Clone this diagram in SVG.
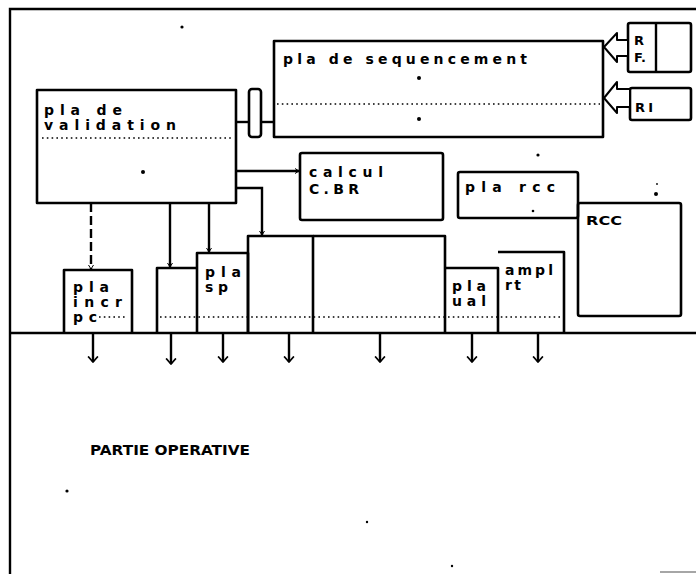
<svg xmlns="http://www.w3.org/2000/svg" width="696" height="574" viewBox="0 0 696 574">
<style>
.box{fill:none;stroke:#000;stroke-width:2.6;stroke-linejoin:round}
.ln{fill:none;stroke:#000;stroke-width:2.4}
.dot{fill:none;stroke:#000;stroke-width:1.6;stroke-dasharray:1.6 3.2}
.t{font-family:"DejaVu Sans","Liberation Sans",sans-serif;font-weight:bold;font-size:14px;fill:#000}
.c{font-family:"DejaVu Sans","Liberation Sans",sans-serif;font-weight:bold;font-size:13px;fill:#000}
.sp{fill:#000}
</style>
<defs>
<marker id="big" markerUnits="userSpaceOnUse" viewBox="0 0 10 16" refX="9" refY="8" markerWidth="7" markerHeight="15" orient="auto">
<path d="M1,1 L9,8 L1,15" fill="none" stroke="#000" stroke-width="2.4"/>
</marker>
<marker id="sm" markerUnits="userSpaceOnUse" viewBox="0 0 10 12" refX="9" refY="6" markerWidth="5" markerHeight="9" orient="auto">
<path d="M1,1 L9,6 L1,11" fill="none" stroke="#000" stroke-width="2"/>
</marker>
</defs>
<rect width="696" height="574" fill="#fff"/>
<g id="frame">
<path class="ln" d="M10,574 V9 H696" stroke-width="3"/>
<path class="ln" d="M10,333 H696" stroke-width="3"/>
</g>
<g id="validation">
<rect class="box" x="37" y="90" width="199" height="113"/>
<text class="t" x="44" y="115" textLength="78" lengthAdjust="spacing">pla de</text>
<text class="t" x="44" y="130" textLength="132" lengthAdjust="spacing">validation</text>
<line class="dot" x1="42" y1="138" x2="232" y2="138"/>
<circle class="sp" cx="143" cy="172" r="2"/>
</g>
<g id="sequencement">
<rect class="box" x="274" y="41" width="329" height="96"/>
<text class="t" x="283" y="64" textLength="244" lengthAdjust="spacing">pla de sequencement</text>
<line class="dot" x1="277" y1="104" x2="600" y2="104"/>
<circle class="sp" cx="419" cy="78" r="2"/>
<circle class="sp" cx="419" cy="119" r="2"/>
</g>
<g id="rf">
<rect class="box" x="628" y="23" width="63" height="49" rx="2"/>
<line class="ln" x1="656" y1="23" x2="656" y2="72"/>
<text class="c" x="634" y="45">R</text>
<text class="c" x="634" y="62">F.</text>
</g>
<g id="ri">
<rect class="box" x="630" y="88" width="61" height="32" rx="2"/>
<text class="c" x="635" y="112" textLength="18" lengthAdjust="spacing">RI</text>
</g>
<g id="calcul">
<rect class="box" x="300" y="153" width="143" height="67" rx="2"/>
<text class="t" x="309" y="177" textLength="74" lengthAdjust="spacing">calcul</text>
<text class="t" x="309" y="194" textLength="50" lengthAdjust="spacing">C.BR</text>
</g>
<g id="plarcc">
<rect class="box" x="458" y="172" width="120" height="46" rx="2"/>
<text class="t" x="465" y="192" textLength="90" lengthAdjust="spacing">pla rcc</text>
<circle class="sp" cx="533" cy="211" r="1.3"/>
</g>
<g id="rcc">
<rect class="box" x="578" y="203" width="103" height="113" rx="2"/>
<text class="c" x="586" y="225" textLength="36" lengthAdjust="spacingAndGlyphs">RCC</text>
<circle class="sp" cx="656" cy="194" r="2"/>
<circle class="sp" cx="657" cy="184" r="0.9"/>
</g>
<g id="plaincrpc">
<path class="box" d="M64,333 V270 H132 V333"/>
<text class="t" x="73" y="292" textLength="36" lengthAdjust="spacing">pla</text>
<text class="t" x="73" y="307" textLength="49" lengthAdjust="spacing">incr</text>
<text class="t" x="73" y="322" textLength="24" lengthAdjust="spacing">pc</text>
<line class="dot" x1="99" y1="317" x2="127" y2="317"/>
</g>
<g id="small">
<path class="box" d="M157,333 V268 H197"/>
</g>
<g id="plasp">
<path class="box" d="M197,333 V253 H248 V333"/>
<text class="t" x="205" y="277" textLength="36" lengthAdjust="spacing">pla</text>
<text class="t" x="205" y="292" textLength="23" lengthAdjust="spacing">sp</text>
</g>
<g id="big1">
<path class="box" d="M248,333 V236 H313 V333"/>
</g>
<g id="big2">
<path class="box" d="M313,236 H445 V333"/>
</g>
<g id="plaual">
<path class="box" d="M445,268 H498 V333"/>
<text class="t" x="452" y="291" textLength="34" lengthAdjust="spacing">pla</text>
<text class="t" x="452" y="306" textLength="34" lengthAdjust="spacing">ual</text>
</g>
<g id="amplrt">
<path class="box" d="M498,252 H564 V333"/>
<text class="t" x="505" y="275" textLength="48" lengthAdjust="spacing">ampl</text>
<text class="t" x="505" y="290" textLength="16" lengthAdjust="spacing">rt</text>
</g>
<line class="dot" x1="160" y1="317" x2="562" y2="317"/>
<g id="partie">
<text class="t" x="90" y="455" font-size="14" textLength="160" lengthAdjust="spacingAndGlyphs" font-family="Liberation Sans, sans-serif">PARTIE OPERATIVE</text>
</g>
<g id="connectors">
<line class="ln" x1="236" y1="122" x2="249" y2="122"/>
<rect class="box" x="249" y="89" width="12" height="48" rx="3"/>
<line class="ln" x1="261" y1="122" x2="274" y2="122"/>
<polygon points="628,40 617,40 617,33 604,47 617,62 617,56 628,56" fill="#fff" stroke="#000" stroke-width="2" stroke-linejoin="round"/>
<polygon points="630,89 617,89 617,82 604,98 617,113 617,107 630,107" fill="#fff" stroke="#000" stroke-width="2" stroke-linejoin="round"/>
<line class="ln" x1="236" y1="171" x2="299" y2="171" marker-end="url(#sm)"/>
<path class="ln" d="M236,188 H262 V235" marker-end="url(#sm)"/>
<line class="ln" x1="91" y1="203" x2="91" y2="269" stroke-dasharray="9 4" marker-end="url(#sm)"/>
<line class="ln" x1="170" y1="203" x2="170" y2="267" marker-end="url(#sm)"/>
<line class="ln" x1="209" y1="203" x2="209" y2="252" marker-end="url(#sm)"/>
<line class="ln" x1="93" y1="334" x2="93" y2="362" marker-end="url(#big)"/>
<line class="ln" x1="171" y1="334" x2="171" y2="364" marker-end="url(#big)"/>
<line class="ln" x1="223" y1="334" x2="223" y2="362" marker-end="url(#big)"/>
<line class="ln" x1="289" y1="334" x2="289" y2="362" marker-end="url(#big)"/>
<line class="ln" x1="380" y1="334" x2="380" y2="362" marker-end="url(#big)"/>
<line class="ln" x1="472" y1="334" x2="472" y2="362" marker-end="url(#big)"/>
<line class="ln" x1="538" y1="334" x2="538" y2="362" marker-end="url(#big)"/>
</g>
<g id="specks">
<circle class="sp" cx="182" cy="27" r="1.6"/>
<circle class="sp" cx="538" cy="155" r="1.6"/>
<circle class="sp" cx="67" cy="491" r="1.6"/>
<circle class="sp" cx="367" cy="522" r="1.2"/>
<circle class="sp" cx="452" cy="566" r="1.2"/>
<line x1="660" y1="572" x2="696" y2="572" stroke="#888" stroke-width="1.5"/>
</g>
</svg>
